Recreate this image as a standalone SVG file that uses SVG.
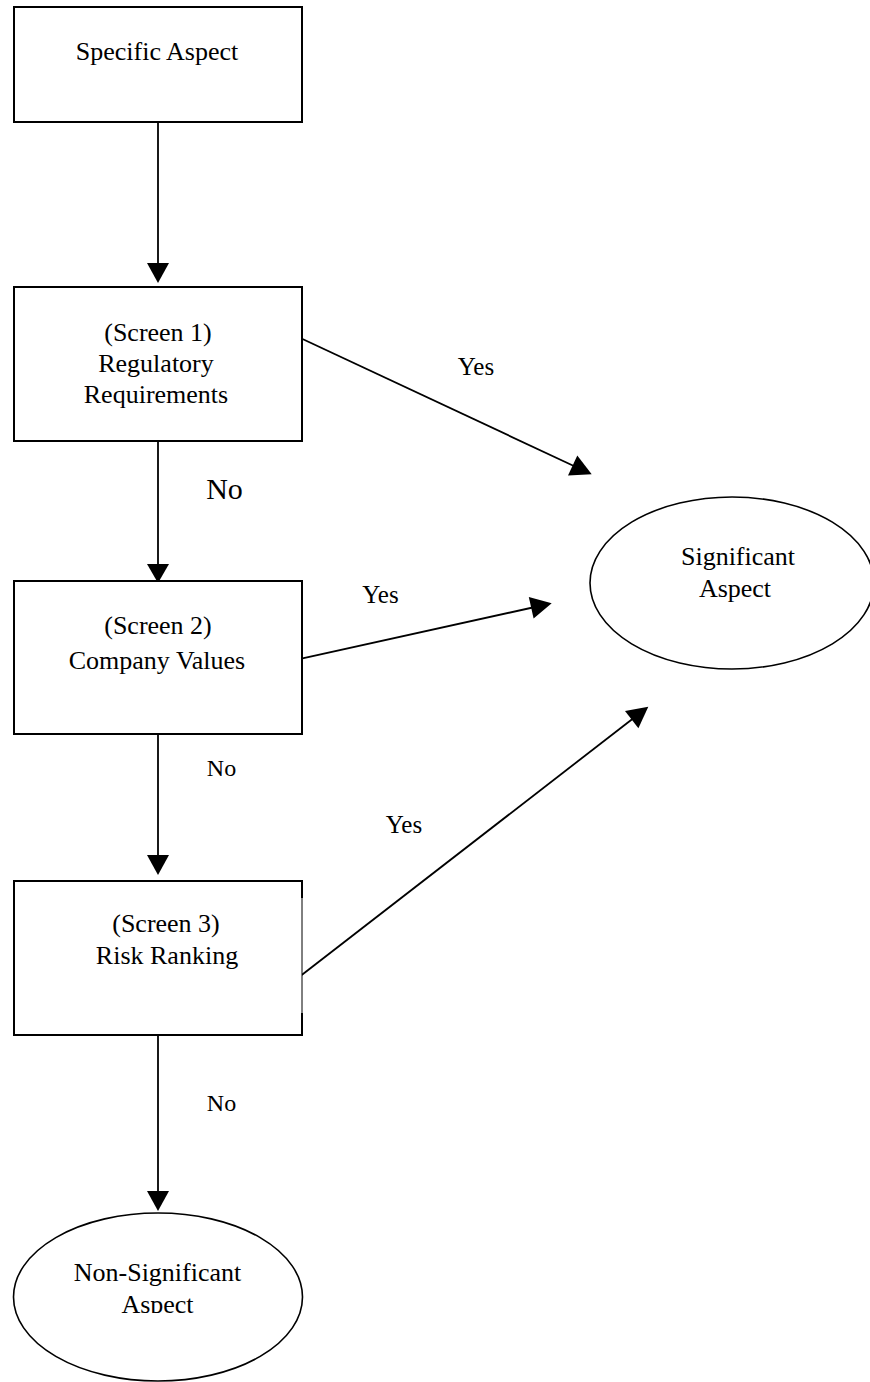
<svg xmlns="http://www.w3.org/2000/svg" width="870" height="1382" viewBox="0 0 870 1382">
<style>
.box{fill:#fff;stroke:#000;stroke-width:2}
.ell{fill:#fff;stroke:#000;stroke-width:1.6}
.ln{stroke:#000;stroke-width:1.8;fill:none}
.hd{fill:#000;stroke:none}
text{font-family:"Liberation Serif","Times New Roman",serif;fill:#000;text-anchor:middle}
.t{font-size:26px}
.lbl{font-size:25px}
.no{font-size:24px}
</style>
<defs>
<clipPath id="clipNS"><rect x="0" y="1200" width="320" height="113"/></clipPath>
</defs>
<rect width="870" height="1382" fill="#fff"/>
<g id="connectors">
<line class="ln" x1="158" y1="122" x2="158" y2="270"/>
<polygon class="hd" points="147,263 169,263 158,283"/>
<line class="ln" x1="158" y1="441" x2="158" y2="570"/>
<polygon class="hd" points="147,564 169,564 158,583"/>
<line class="ln" x1="158" y1="734" x2="158" y2="860"/>
<polygon class="hd" points="147,855 169,855 158,875"/>
<line class="ln" x1="158" y1="1035" x2="158" y2="1196"/>
<polygon class="hd" points="147,1191 169,1191 158,1211"/>
<line class="ln" x1="302.5" y1="339" x2="576" y2="467"/>
<polygon class="hd" points="591.7,474.3 568,475.4 577.3,455.4"/>
<line class="ln" x1="302.5" y1="658.3" x2="535" y2="607"/>
<polygon class="hd" points="551.7,603.3 533.6,618.5 528.8,597.1"/>
<line class="ln" x1="301.7" y1="975" x2="635" y2="717"/>
<polygon class="hd" points="648.3,706.7 638.4,728.3 625,710.9"/>
<text class="lbl" x="476" y="375">Yes</text>
<text class="lbl" x="380.5" y="603">Yes</text>
<text class="lbl" x="404" y="833">Yes</text>
<text x="224.5" y="499" style="font-size:30px">No</text>
<text class="no" x="221.5" y="776">No</text>
<text class="no" x="221.5" y="1111">No</text>
</g>
<g id="node-specific">
<rect class="box" x="14" y="7" width="288" height="115"/>
<text class="t" x="157" y="60">Specific Aspect</text>
</g>
<g id="node-screen1">
<rect class="box" x="14" y="287" width="288" height="154"/>
<text class="t" x="158" y="341">(Screen 1)</text>
<text class="t" x="156" y="372">Regulatory</text>
<text class="t" x="156" y="403">Requirements</text>
</g>
<g id="node-screen2">
<rect class="box" x="14" y="581" width="288" height="153"/>
<text class="t" x="158" y="634">(Screen 2)</text>
<text class="t" x="157" y="669">Company Values</text>
</g>
<g id="node-screen3">
<rect x="14" y="881" width="288" height="154" fill="#fff"/>
<path class="ln" style="stroke-width:2" d="M302,898 V881 H14 V1035 H302 V1013"/>
<line x1="302" y1="898" x2="302" y2="1013" stroke="#000" stroke-width="1"/>
<text class="t" x="166" y="932">(Screen 3)</text>
<text class="t" x="167" y="964">Risk Ranking</text>
</g>
<g id="node-significant">
<ellipse class="ell" cx="732" cy="583" rx="142" ry="86"/>
<text class="t" x="738" y="565">Significant</text>
<text class="t" x="735" y="597">Aspect</text>
</g>
<g id="node-nonsignificant">
<ellipse class="ell" cx="158" cy="1297" rx="144.5" ry="84"/>
<text class="t" x="157.5" y="1281">Non-Significant</text>
<text class="t" x="157.5" y="1312.5" clip-path="url(#clipNS)">Aspect</text>
</g>
</svg>
